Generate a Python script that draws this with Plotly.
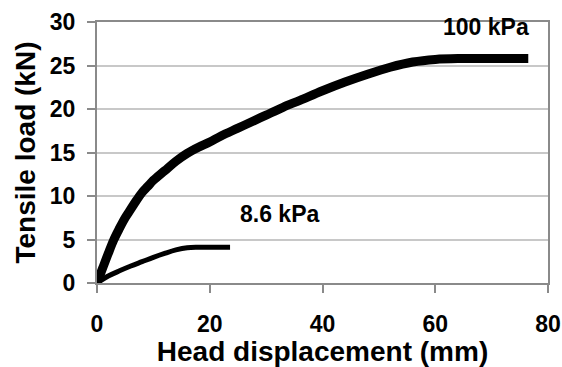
import plotly.graph_objects as go

# 100 kPa curve
disp_100 = [0, 1, 2, 3, 4, 5, 6, 7, 8, 9, 10, 12, 14, 16, 18, 20, 22, 25, 28, 30,
            33, 36, 40, 44, 48, 52, 56, 60, 64, 68, 72, 76.5]
load_100 = [0, 1.7, 3.4, 5.0, 6.3, 7.5, 8.5, 9.5, 10.4, 11.1, 11.8, 12.9, 14.0, 14.9,
            15.6, 16.2, 16.9, 17.8, 18.7, 19.3, 20.2, 21.0, 22.1, 23.1, 24.0, 24.8,
            25.4, 25.7, 25.8, 25.8, 25.8, 25.8]

# 8.6 kPa curve
disp_86 = [0, 2, 4, 6, 8, 10, 12, 14, 16, 18, 21, 23.6]
load_86 = [0, 0.8, 1.4, 1.95, 2.45, 2.95, 3.4, 3.8, 4.05, 4.1, 4.1, 4.1]

x_ticks = [0, 20, 40, 60, 80]
y_ticks = [0, 5, 10, 15, 20, 25, 30]

labels = ["100 kPa", "8.6 kPa"]
label_x = [69, 32.3]
label_y = [29.4, 7.9]

FONT = "Liberation Sans, Arial, sans-serif"

fig = go.Figure()
fig.add_trace(go.Scatter(x=disp_100, y=load_100, mode="lines",
                         line=dict(color="black", width=9, shape="spline"),
                         showlegend=False))
fig.add_trace(go.Scatter(x=disp_86, y=load_86, mode="lines",
                         line=dict(color="black", width=5, shape="spline"),
                         showlegend=False))

for t, xx, yy in zip(labels, label_x, label_y):
    fig.add_annotation(x=xx, y=yy, text="<b>%s</b>" % t, showarrow=False,
                       font=dict(family=FONT, size=23, color="black"),
                       xanchor="center", yanchor="middle")

fig.update_layout(
    width=562, height=367,
    margin=dict(l=97, r=14, t=22, b=84, autoexpand=False),
    plot_bgcolor="white", paper_bgcolor="white",
    font=dict(family=FONT, color="black"),
)
fig.update_xaxes(
    range=[0, 80], tickvals=x_ticks, ticktext=["<b>%d</b>" % v for v in x_ticks],
    tickfont=dict(size=23, family=FONT, color="black"),
    showgrid=False, zeroline=False,
    showline=True, linecolor="#8a8a8a", linewidth=2, mirror=True,
    ticks="outside", ticklen=8, tickcolor="#8a8a8a", tickwidth=1.5,
    ticklabelstandoff=11,
    title=dict(text="<b>Head displacement (mm)</b>", font=dict(size=28, family=FONT, color="black"),
               standoff=2),
    automargin=False,
)
fig.update_yaxes(
    range=[0, 30], tickvals=y_ticks, ticktext=["<b>%d</b>" % v for v in y_ticks],
    tickfont=dict(size=23, family=FONT, color="black"),
    showgrid=True, gridcolor="#c8c8c8", gridwidth=1.5, zeroline=False,
    showline=True, linecolor="#8a8a8a", linewidth=2, mirror=True,
    ticks="outside", ticklen=8, tickcolor="#8a8a8a", tickwidth=1.5,
    ticklabelstandoff=7,
    title=dict(text="<b>Tensile load (kN)</b>", font=dict(size=28, family=FONT, color="black"),
               standoff=6),
    automargin=False,
)

fig.write_html("out.html")
